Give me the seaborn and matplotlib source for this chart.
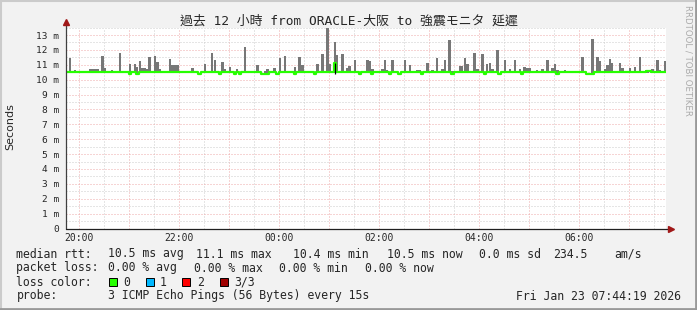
import numpy as np
import pandas as pd
import matplotlib
matplotlib.use("Agg")
import matplotlib.pyplot as plt
import seaborn as sns
from matplotlib.ticker import FixedLocator, MultipleLocator, FuncFormatter
from matplotlib.patches import Rectangle
from matplotlib.lines import Line2D

# ---------------- data ----------------
title = "過去 12 小時 from ORACLE-大阪 to 強震モニタ 延遲"
start_hour = 19 + 44 / 60 + 19 / 3600      # 19:44:19
slot_hours = 0.05                          # 3 minute consolidation
n_slots = 240

median_base = 10.5
smoke_floor = 10.42

smoke_slots = [1, 3, 9, 10, 11, 12, 14, 15, 18, 21, 25, 27, 28, 29, 30, 31, 32, 33, 35, 36,
               37, 41, 42, 43, 44, 45, 46, 50, 55, 58, 59, 62, 63, 65, 68, 71, 76, 79, 80, 83,
               85, 87, 90, 91, 93, 94, 98, 100, 102, 104, 105, 107, 108, 110, 112, 113, 115, 120, 121, 122,
               126, 127, 128, 130, 135, 137, 140, 141, 144, 146, 148, 150, 151, 153, 154, 157, 158, 159, 160, 163,
               164, 166, 168, 169, 170, 172, 175, 177, 179, 181, 183, 184, 185, 188, 190, 192, 194, 195, 196, 199,
               201, 206, 210, 212, 213, 215, 216, 217, 218, 221, 222, 225, 227, 229, 232, 234, 236, 237, 239]
smoke_tops = [11.45, 10.65, 10.7, 10.7, 10.7, 10.7, 11.6, 10.8, 10.65, 11.8, 11.05, 11.05, 10.85, 11.25, 10.8, 10.8, 10.7, 11.55, 11.6, 11.2,
              10.75, 11.4, 11.0, 11.0, 11.0, 10.6, 10.6, 10.8, 11.05, 11.8, 11.35, 11.2, 10.75, 10.85, 10.7, 12.2, 11.0, 10.6, 10.7, 10.8,
              11.45, 11.6, 10.6, 10.85, 11.55, 11.0, 10.6, 11.05, 11.75, 13.45, 11.05, 12.55, 11.65, 11.7, 10.8, 10.9, 11.35, 11.3, 11.25, 10.75,
              10.75, 11.3, 10.65, 11.3, 11.3, 11.0, 10.65, 10.65, 11.15, 10.65, 11.45, 10.75, 11.35, 12.7, 10.6, 10.9, 10.9, 11.45, 11.05, 11.8,
              10.75, 11.7, 11.05, 11.15, 10.75, 12.0, 11.3, 10.75, 11.35, 10.7, 10.85, 10.8, 10.8, 10.65, 10.7, 11.35, 10.8, 11.05, 10.65, 10.65,
              10.6, 11.5, 12.75, 11.55, 11.25, 10.75, 11.0, 11.4, 11.15, 11.1, 10.8, 10.8, 10.85, 11.5, 10.65, 10.7, 11.35, 10.65, 11.25]

dip_slots = [25, 28, 53, 61, 67, 69, 78, 79, 80, 84, 91, 99, 117, 122, 129, 133, 142,
             154, 167, 173, 182, 196, 208, 209, 210]
dip_value = 10.38
bump_slots = [232, 233]
bump_value = 10.57
peak_slot = 107
peak_median = 11.1
spike_slot = 107
spike_lo = 10.38
spike_hi = 11.15

y_ticks = list(range(0, 14))
y_labels = ["0"] + [f"{v} m" for v in range(1, 14)]
x_label_hours = [20, 22, 24, 26, 28, 30]
x_labels = ["20:00", "22:00", "00:00", "02:00", "04:00", "06:00"]

legend_rows = [
    (254, [("median rtt:", 16.4), ("10.5 ms avg", 107.6), ("11.1 ms max", 195.6),
           ("10.4 ms min", 293.0), ("10.5 ms now", 386.7), ("0.0 ms sd", 479.0),
           ("234.5", 553.0), ("am/s", 614.7)]),
    (268, [("packet loss:", 16.4), ("0.00 % avg", 107.6), ("0.00 % max", 194.0),
           ("0.00 % min", 279.0), ("0.00 % now", 365.0)]),
    (282, [("loss color:", 16.4), ("0", 123.6), ("1", 160.0), ("2", 197.0), ("3/3", 234.0)]),
    (296, [("probe:", 16.4), ("3 ICMP Echo Pings (56 Bytes) every 15s", 107.6)]),
]
loss_colors = ["#26ff00", "#00b8ff", "#ff0000", "#a00000"]
loss_box_x = [109.0, 145.5, 182.0, 219.5]
timestamp = "Fri Jan 23 07:44:19 2026"

# ---------------- build tables ----------------
slot_start = start_hour + np.arange(n_slots) * slot_hours
median = np.full(n_slots, median_base)
median[dip_slots] = dip_value
median[bump_slots] = bump_value
median[peak_slot] = peak_median
med_df = pd.DataFrame({"t": np.append(slot_start, start_hour + n_slots * slot_hours),
                       "rtt": np.append(median, median[-1])})
smoke_df = pd.DataFrame({"t": slot_start[smoke_slots], "top": smoke_tops})

# ---------------- style ----------------
sns.set_style("white")
plt.rcParams["font.family"] = ["DejaVu Sans Mono", "Noto Sans CJK TC"]

W, H = 697, 310
fig = plt.figure(figsize=(W / 100, H / 100), dpi=100, facecolor="#f2f2f2")

def fx(px):
    return px / W

def fy(py):
    return 1 - py / H

ax_left, ax_right, ax_top, ax_bottom = 66, 666, 27.6, 228.5
ax = fig.add_axes([fx(ax_left), fy(ax_bottom), (ax_right - ax_left) / W, (ax_bottom - ax_top) / H])
ax.set_facecolor("white")

# smoke
ax.bar(smoke_df["t"], smoke_df["top"] - smoke_floor, bottom=smoke_floor, width=slot_hours,
       align="edge", color="#777777", linewidth=0, zorder=3)
# median
sns.lineplot(data=med_df, x="t", y="rtt", drawstyle="steps-post", color=loss_colors[0],
             linewidth=1.6, ax=ax, zorder=4, errorbar=None, sort=False)
ax.vlines(start_hour + (spike_slot + 0.5) * slot_hours, spike_lo, spike_hi, color="black",
          linewidth=0.9, zorder=5)

ax.set_xlim(start_hour, start_hour + n_slots * slot_hours)
ax.set_ylim(0, 13.5)

# grid
ax.xaxis.set_major_locator(FixedLocator(list(range(20, 32))))
ax.xaxis.set_minor_locator(MultipleLocator(0.5))
lab_map = dict(zip(x_label_hours, x_labels))
ax.xaxis.set_major_formatter(FuncFormatter(lambda v, p: lab_map.get(int(round(v)), "")))
ax.set_yticks(y_ticks)
ax.set_yticklabels(y_labels)
ax.yaxis.set_minor_locator(MultipleLocator(0.5))
ax.grid(which="minor", color="#cccccc", linestyle=(0, (1, 2)), linewidth=0.72, zorder=1)
ax.grid(which="major", color="#eeaaaa", linestyle=(0, (1, 2)), linewidth=0.72, zorder=2)
ax.set_axisbelow(True)

for s in ax.spines.values():
    s.set_visible(False)
ax.tick_params(axis="x", which="both", length=0, pad=3.2, labelsize=7)
ax.tick_params(axis="y", which="major", length=2.2, width=0.7, color="#e09090", pad=3.0, labelsize=6.8)
ax.tick_params(axis="y", which="minor", length=0)
ax.set_xlabel("")
ax.set_ylabel("")

# axes lines with arrows
ax.plot([0, 0], [0, 1.02], transform=ax.transAxes, color="#404040", lw=0.9, clip_on=False, zorder=6)
ax.plot([0, 1.006], [0, 0], transform=ax.transAxes, color="#202020", lw=0.9, clip_on=False, zorder=6)
ax.plot([0], [1.03], transform=ax.transAxes, marker="^", color="#a01818", markersize=4.5,
        clip_on=False, zorder=7)
ax.plot([1.009], [0], transform=ax.transAxes, marker=">", color="#a01818", markersize=4.5,
        clip_on=False, zorder=7)

# texts
fig.text(0.5, fy(21), title, ha="center", va="center", fontsize=9.3,
         family=["DejaVu Sans Mono", "Noto Sans CJK TC"])
fig.text(fx(10), fy(127), "Seconds", rotation=90, ha="center", va="center", fontsize=8,
         family=["DejaVu Sans"])
fig.text(fx(688), fy(60), "RRDTOOL / TOBI OETIKER", rotation=270, ha="center", va="center",
         fontsize=6.2, color="#aaaaaa", family=["DejaVu Sans"])

for yrow, items in legend_rows:
    for txt, xpos in items:
        fig.text(fx(xpos), fy(yrow), txt, ha="left", va="center", fontsize=8.3)
fig.text(fx(680.5), fy(296), timestamp, ha="right", va="center", fontsize=8.3)

for c, bx in zip(loss_colors, loss_box_x):
    fig.add_artist(Rectangle((fx(bx), fy(286)), 8 / W, 8 / H, transform=fig.transFigure,
                             facecolor=c, edgecolor="black", linewidth=0.7))

# frame shading
fig.add_artist(Line2D([0, 1], [fy(1), fy(1)], transform=fig.transFigure, color="#cbcbcb", lw=1.5))
fig.add_artist(Line2D([fx(1), fx(1)], [0, 1], transform=fig.transFigure, color="#cbcbcb", lw=1.5))
fig.add_artist(Line2D([0, 1], [fy(308.5), fy(308.5)], transform=fig.transFigure, color="#999999", lw=2))
fig.add_artist(Line2D([fx(695.5), fx(695.5)], [0, 1], transform=fig.transFigure, color="#999999", lw=2))

fig.savefig("out.png", dpi=100, facecolor=fig.get_facecolor())
